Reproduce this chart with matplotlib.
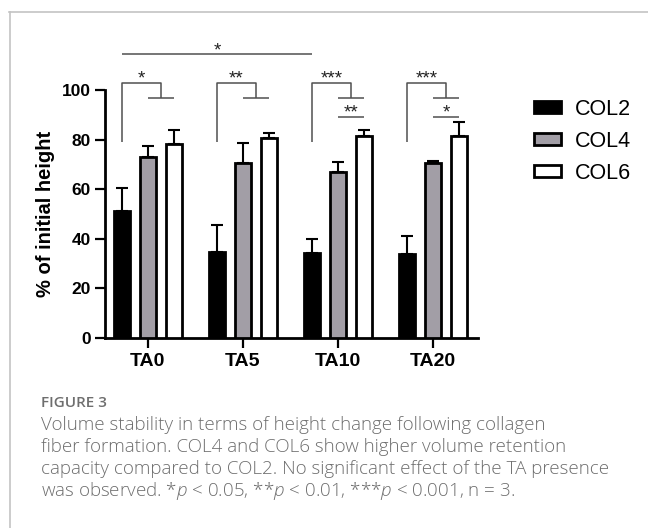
import matplotlib
matplotlib.use("Agg")
import matplotlib.pyplot as plt
from matplotlib.lines import Line2D
from matplotlib.patches import Patch
import numpy as np

categories = ["TA0", "TA5", "TA10", "TA20"]
series = ["COL2", "COL4", "COL6"]
col2 = [51.3, 34.7, 34.4, 33.7]
col4 = [72.9, 70.4, 66.8, 70.7]
col6 = [78.2, 80.5, 81.5, 81.5]
col2_err = [9.1, 10.9, 5.4, 7.4]
col4_err = [4.5, 8.1, 4.0, 0.5]
col6_err = [5.5, 2.2, 2.2, 5.5]
yticks = [0, 20, 40, 60, 80, 100]

W, H = 648, 528
plt.rcParams['font.family'] = ['Liberation Sans', 'DejaVu Sans']
plt.rcParams['mathtext.fontset'] = 'custom'
plt.rcParams['mathtext.it'] = 'Open Sans:italic:light'
plt.rcParams['mathtext.rm'] = 'Open Sans:light'
fig = plt.figure(figsize=(W / 100, H / 100), dpi=100)

ax = fig.add_axes([105 / W, (H - 338) / H, (478 - 105) / W, 248 / H])

x = np.arange(len(categories))
off = 0.274
bw = 0.17
vals = [col2, col4, col6]
errs = [col2_err, col4_err, col6_err]
fills = ["black", "#a29ea6", "white"]
for i, (v, e, fc) in enumerate(zip(vals, errs, fills)):
    xs = x + (i - 1) * off
    ax.bar(xs, v, bw, color=fc, edgecolor="black", linewidth=2, zorder=3, label=series[i])
    ax.errorbar(xs, v, yerr=[np.zeros(len(e)), e], fmt="none", ecolor="black",
                elinewidth=1.5, capsize=4, capthick=1.5, zorder=2)

ax.set_xlim(-0.45, 3.47)
ax.set_ylim(0, 100)
ax.set_yticks(yticks)
ax.set_xticks(x)
ax.set_xticklabels(categories, fontsize=14, fontweight="bold")
ax.set_yticklabels([str(t) for t in yticks], fontsize=12.5, fontweight="bold")
ax.tick_params(axis="both", length=7, width=1.6, direction="out")
ax.tick_params(axis="x", pad=4)
ax.tick_params(axis="y", pad=3)
for s in ["top", "right"]:
    ax.spines[s].set_visible(False)
for s in ["left", "bottom"]:
    ax.spines[s].set_linewidth(2)
ax.set_ylabel("% of initial height", fontsize=14.5, fontweight="bold", labelpad=5)

# significance annotations
lc = "#505050"
lw = 1.1
def line(xx, yy):
    ax.plot(xx, yy, color=lc, lw=lw, clip_on=False, solid_capstyle="butt", zorder=4)

def star(xc, y, s):
    ax.text(xc, y, s, ha="center", va="bottom", fontsize=13.5, color="#222222", clip_on=False)

brackets = [("*", None), ("**", None), ("***", "**"), ("***", "*")]
for g, (s1, s2) in enumerate(brackets):
    xl = g - off
    xm = g + off / 2
    line([xl, xl, xm, xm], [79.0, 103.0, 103.0, 96.8])
    line([g, g + off], [96.8, 96.8])
    star((xl + xm) / 2, 101.0, s1)
    if s2:
        line([g, g + off], [89.2, 89.2])
        star(g + off / 2, 87.3, s2)

line([0 - off, 2 - off], [114.5, 114.5])
star((0 - off + 2 - off) / 2, 112.5, "*")

# legend
handles = [Patch(facecolor=fc, edgecolor="black", linewidth=2) for fc in fills]
leg = fig.legend(handles, series, loc="upper left", bbox_to_anchor=(534 / W, 1 - 99 / H),
                 frameon=False, fontsize=15.5, handlelength=1.25, handleheight=0.5,
                 labelspacing=0.5, handletextpad=0.65, borderpad=0, borderaxespad=0)

# frame lines
fig.add_artist(Line2D([9 / W, 1], [1 - 11.5 / H, 1 - 11.5 / H], color="#c4c4c4", lw=1.2))
fig.add_artist(Line2D([9.5 / W, 9.5 / W], [0, 1 - 11.5 / H], color="#c4c4c4", lw=1.2))

# caption
cap_col = "#6e6e6e"
fig.text(41 / W, 1 - 403 / H, "FIGURE 3", fontsize=11, color=cap_col,
         family=["Open Sans", "DejaVu Sans"], fontweight="semibold", va="center", ha="left")
lines = [
    "Volume stability in terms of height change following collagen",
    "fiber formation. COL4 and COL6 show higher volume retention",
    "capacity compared to COL2. No significant effect of the TA presence",
    r"was observed. *$\it{p}$ < 0.05, **$\it{p}$ < 0.01, ***$\it{p}$ < 0.001, n = 3.",
]
for k, t in enumerate(lines):
    fig.text(41 / W, 1 - (425 + 22 * k) / H, t, fontsize=13.5, color=cap_col,
             family=["Open Sans", "DejaVu Sans"], fontweight="light", va="center", ha="left")

fig.savefig("out.png", dpi=100)
